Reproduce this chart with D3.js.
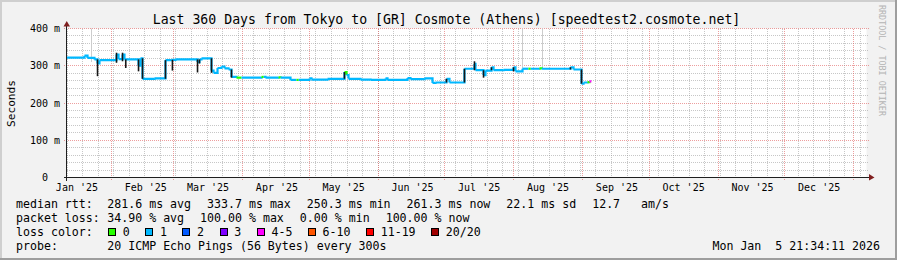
<!DOCTYPE html>
<html>
<head>
<meta charset="utf-8">
<script src="https://cdn.jsdelivr.net/npm/d3@7"></script>
<style>
body { margin: 0; background: #fff; }
svg text { font-family: "DejaVu Sans Mono", monospace; fill: #000; white-space: pre; }
</style>
</head>
<body>
<svg></svg>
<script>
// median rtt, one step per entry (step starts at the date, in ms, pings lost of 20)
var medianDates = ["2025-01-11T18", "2025-01-19T20", "2025-01-21T05", "2025-01-24T08", "2025-01-25T17",
    "2025-01-26T14", "2025-02-03T06", "2025-02-04T04", "2025-02-05T23", "2025-02-06T20",
    "2025-02-13T04", "2025-02-14T01", "2025-02-14T23", "2025-02-20T08", "2025-02-25T07",
    "2025-02-28T00", "2025-03-01T19", "2025-03-11T17", "2025-03-12T14", "2025-03-13T12",
    "2025-03-18T00", "2025-03-18T22", "2025-03-20T17", "2025-03-22T12", "2025-03-23T20",
    "2025-03-25T16", "2025-03-27T00", "2025-03-29T06", "2025-03-31T12", "2025-04-09T12",
    "2025-04-10T12", "2025-04-11T07", "2025-04-17T04", "2025-04-18T01", "2025-04-22T13",
    "2025-04-25T06", "2025-04-26T06", "2025-05-01T02", "2025-05-02T00", "2025-05-09T05",
    "2025-05-16T20", "2025-05-17T18", "2025-05-18T16", "2025-05-24T01", "2025-05-28T13",
    "2025-06-04T07", "2025-06-05T05", "2025-06-14T05", "2025-06-15T13", "2025-06-21T20",
    "2025-06-25T11", "2025-06-26T19", "2025-07-01T18", "2025-07-03T02", "2025-07-09T20",
    "2025-07-14T08", "2025-07-14T19", "2025-07-18T10", "2025-07-19T07", "2025-07-22T00",
    "2025-07-22T22", "2025-07-27T10", "2025-07-31T22", "2025-08-01T19", "2025-08-04T23",
    "2025-08-07T16", "2025-08-08T16", "2025-08-12T14", "2025-08-13T14", "2025-08-26T13",
    "2025-08-27T22", "2025-08-31T12", "2025-09-01T10", "2025-09-03T05", "2025-09-04T02",
    "2025-09-04T23"]
var medianRtt = [322, 327, 321, 317, 306,
    315, 330, 318, 330, 317,
    300, 320, 265, 266, 315,
    316, 317, 310, 317, 320,
    287, 281, 294, 298, 293,
    290, 270, 268, 268, 270,
    270, 268, 269, 268, 262,
    262, 262, 266, 263, 265,
    283, 275, 265, 263, 262,
    266, 262, 267, 264, 266,
    254, 255, 265, 255, 292,
    305, 288, 275, 287, 296,
    288, 289, 296, 285, 292,
    292, 292, 293, 292, 296,
    290, 252, 255, 256, 258,
    258]
var medianLost = [1, 1, 1, 1, 1,
    1, 1, 1, 1, 1,
    1, 1, 1, 1, 1,
    1, 1, 1, 1, 1,
    1, 1, 1, 1, 1,
    1, 1, 0, 1, 0,
    1, 1, 0, 1, 1,
    0, 1, 1, 1, 1,
    0, 1, 1, 1, 1,
    1, 1, 1, 1, 1,
    1, 1, 1, 1, 1,
    1, 1, 1, 1, 1,
    1, 1, 1, 1, 1,
    0, 1, 0, 1, 1,
    1, 1, 1, 0, 4,
    4]

// dense smoke (spread of the 20 pings) where the median jumps
var smokeDates = ["2025-01-25T17", "2025-02-03T06", "2025-02-05T23", "2025-02-07T10", "2025-02-13T04",
    "2025-02-14T23", "2025-02-25T07", "2025-02-28T10", "2025-03-11T17", "2025-03-12T14",
    "2025-03-18T00", "2025-03-27T00", "2025-05-16T20", "2025-07-01T18", "2025-07-09T20",
    "2025-07-14T08", "2025-07-18T10", "2025-07-22T00", "2025-07-31T22", "2025-08-26T13",
    "2025-08-31T12"]
var smokeLow = [272, 308, 312, 294, 285, 265, 265, 287, 282, 306, 281, 268, 265, 255, 255, 288, 268, 288, 285, 290, 252]
var smokeHigh = [317, 335, 335, 317, 317, 320, 315, 316, 317, 317, 320, 290, 283, 265, 292, 312, 288, 296, 296, 296, 290]

// sparse smoke from single slow pings
var outlierDates = ["2025-01-23T00", "2025-08-04T23", "2025-08-13T23"]
var outlierLow = [310, 292, 292]
var outlierHigh = [400, 400, 400]

var lossLabels = ["0", "1", "2", "3", "4-5", "6-10", "11-19", "20/20"]
var lossLimits = [1, 2, 3, 4, 6, 11, 20]
var lossColors = ["#26ff00", "#00b8ff", "#0059ff", "#7e00ff", "#ff00ff", "#ff5500", "#ff0000", "#a00000"]

var yTicks = [0, 100, 200, 300, 400]
var yTickLabels = ["0  ", "100 m", "200 m", "300 m", "400 m"]

var rttStatValues = ["281.6", "333.7", "250.3", "261.3"]
var lossStatValues = ["34.90", "100.00", "0.00", "100.00"]
var statNames = ["avg", "max", "min", "now"]
var rttSd = "22.1"
var rttAms = "12.7"

var W = 897, H = 260
// plot box (window.top is read-only, so no "top" here)
var pL = 66.5, pR = 866.5, pT = 28.5, pB = 177.5

var parse = d3.utcParse("%Y-%m-%dT%H")
var start = parse("2025-01-11T18")
var end = d3.utcDay.offset(start, 360)

var svg = d3.select("svg").attr("width", W).attr("height", H)

// background + 3d shade
svg.append("rect").attr("width", W).attr("height", H).attr("fill", "#f2f2f2")
svg.append("rect").attr("width", W).attr("height", 2).attr("fill", "#cfcfcf")
svg.append("rect").attr("width", 2).attr("height", H).attr("fill", "#cfcfcf")
svg.append("rect").attr("y", H - 2).attr("width", W).attr("height", 2).attr("fill", "#9e9e9e")
svg.append("rect").attr("x", W - 2).attr("width", 2).attr("height", H).attr("fill", "#9e9e9e")

var x = d3.scaleTime().domain([start, end]).range([pL, pR])
var y = d3.scaleLinear().domain([0, 400]).range([pB, pT])
var px = v => Math.floor(v) + 0.5

svg.append("rect").attr("x", pL).attr("y", pT)
    .attr("width", pR - pL).attr("height", pB - pT).attr("fill", "#fff")

var grid = svg.append("g").attr("shape-rendering", "crispEdges").attr("stroke-dasharray", "1,1")
var minorCol = "rgba(143,143,143,0.5)", majorCol = "rgba(222,79,79,0.55)"

// horizontal grid
d3.range(20, 400, 20).filter(v => v % 100).forEach(v => {
    grid.append("line").attr("x1", pL).attr("x2", pR + 2)
        .attr("y1", px(y(v))).attr("y2", px(y(v))).attr("stroke", minorCol)
})
yTicks.forEach(v => {
    grid.append("line").attr("x1", pL - 3).attr("x2", pR + 2)
        .attr("y1", px(y(v))).attr("y2", px(y(v))).attr("stroke", majorCol)
})

// vertical grid: weeks and months
d3.utcSunday.range(start, end).forEach(d => {
    grid.append("line").attr("x1", px(x(d))).attr("x2", px(x(d)))
        .attr("y1", pT).attr("y2", pB).attr("stroke", minorCol)
})
d3.utcMonth.range(start, end).forEach(d => {
    grid.append("line").attr("x1", px(x(d))).attr("x2", px(x(d)))
        .attr("y1", pT).attr("y2", pB + 2).attr("stroke", majorCol)
})

// light smoke
outlierDates.forEach((d, i) => {
    svg.append("line").attr("x1", px(x(parse(d)))).attr("x2", px(x(parse(d))))
        .attr("y1", y(outlierLow[i])).attr("y2", y(outlierHigh[i]))
        .attr("stroke", "#cccccc").attr("stroke-width", 1)
})

// median line coloured by loss
var lossColor = d3.scaleThreshold().domain(lossLimits).range(lossColors)
var pts = medianDates.map((d, i) => ({date: parse(d), v: medianRtt[i], lost: medianLost[i]}))
var step = d3.line().x(p => x(p.date)).y(p => y(p.v)).curve(d3.curveStepAfter)
d3.pairs(pts).forEach(pair => {
    svg.append("path").attr("d", step(pair)).attr("fill", "none")
        .attr("stroke", lossColor(pair[0].lost)).attr("stroke-width", 2.2)
})

// dark smoke
smokeDates.forEach((d, i) => {
    svg.append("line").attr("x1", x(parse(d))).attr("x2", x(parse(d)))
        .attr("y1", y(smokeLow[i])).attr("y2", y(smokeHigh[i]))
        .attr("stroke", "#161616").attr("stroke-width", 1.6)
})

// axes + arrows
var axis = svg.append("g").attr("shape-rendering", "crispEdges")
axis.append("line").attr("x1", pL - 3).attr("x2", pR + 3).attr("y1", pB).attr("y2", pB).attr("stroke", "#1f1f1f")
axis.append("line").attr("x1", pL).attr("x2", pL).attr("y1", pB + 3).attr("y2", pT - 4).attr("stroke", "#1f1f1f")
svg.append("path").attr("d", `M${pL - 3},${pT - 2}L${pL + 3.5},${pT - 2}L${pL + 0.25},${pT - 7.5}Z`).attr("fill", "#801f1f")
svg.append("path").attr("d", `M${pR + 2.5},${pB - 3.5}L${pR + 2.5},${pB + 3}L${pR + 8},${pB}Z`).attr("fill", "#801f1f")

// y labels
yTicks.forEach((v, i) => {
    svg.append("text").attr("x", 60).attr("y", y(v) + 3.5)
        .attr("text-anchor", "end").attr("font-size", "10px").text(yTickLabels[i])
})

// x labels: mid-month
var fmt = d3.utcFormat("%b '%y")
d3.utcMonth.range(d3.utcMonth.floor(start), end).forEach(m => {
    var c = d3.utcDay.offset(m, 15)
    if (c < start || c > end) return
    svg.append("text").attr("x", x(c) + 1).attr("y", 191)
        .attr("text-anchor", "middle").attr("font-size", "10px").text(fmt(m))
})

// title, unit, watermark
svg.append("text").attr("x", 446.5).attr("y", 23.5).attr("text-anchor", "middle")
    .attr("font-size", "13.2px").text("Last 360 Days from Tokyo to [GR] Cosmote (Athens) [speedtest2.cosmote.net]")
svg.append("text").attr("transform", "translate(15,103.5) rotate(-90)").attr("text-anchor", "middle")
    .attr("font-size", "11.1px").text("Seconds")
svg.append("text").attr("transform", "translate(879,5) rotate(90)").attr("font-size", "8.4px")
    .style("fill", "#b4b4b4").text("RRDTOOL / TOBI OETIKER")

// legend
var fs = "11.6px", col2 = 107.3, gap = 16
var rows = [208.4, 222.3, 236.2, 250.1]
var leg = svg.append("g").attr("font-size", fs)
function row(yy, label, items) {
    leg.append("text").attr("x", 16).attr("y", yy).text(label)
    var xx = col2
    items.forEach(s => {
        var t = leg.append("text").attr("x", xx).attr("y", yy).text(s)
        xx += t.node().getComputedTextLength() + gap
    })
}
row(rows[0], "median rtt:", rttStatValues.map((v, i) => v + " ms " + statNames[i])
    .concat([rttSd + " ms sd", rttAms + "   am/s"]))
row(rows[1], "packet loss:", lossStatValues.map((v, i) => v + " % " + statNames[i]))

leg.append("text").attr("x", 16).attr("y", rows[2]).text("loss color:")
var bx = 108.5
lossLabels.forEach((l, i) => {
    leg.append("rect").attr("x", bx).attr("y", rows[2] - 7.7).attr("width", 7).attr("height", 7)
        .attr("fill", lossColors[i]).attr("stroke", "#000").attr("shape-rendering", "crispEdges")
    var t = leg.append("text").attr("x", bx + 14.2).attr("y", rows[2]).text(l)
    bx += 14.2 + t.node().getComputedTextLength() + gap
})

row(rows[3], "probe:", ["20 ICMP Echo Pings (56 Bytes) every 300s"])
leg.append("text").attr("x", 880).attr("y", rows[3]).attr("text-anchor", "end").text("Mon Jan  5 21:34:11 2026")
</script>
</body>
</html>
